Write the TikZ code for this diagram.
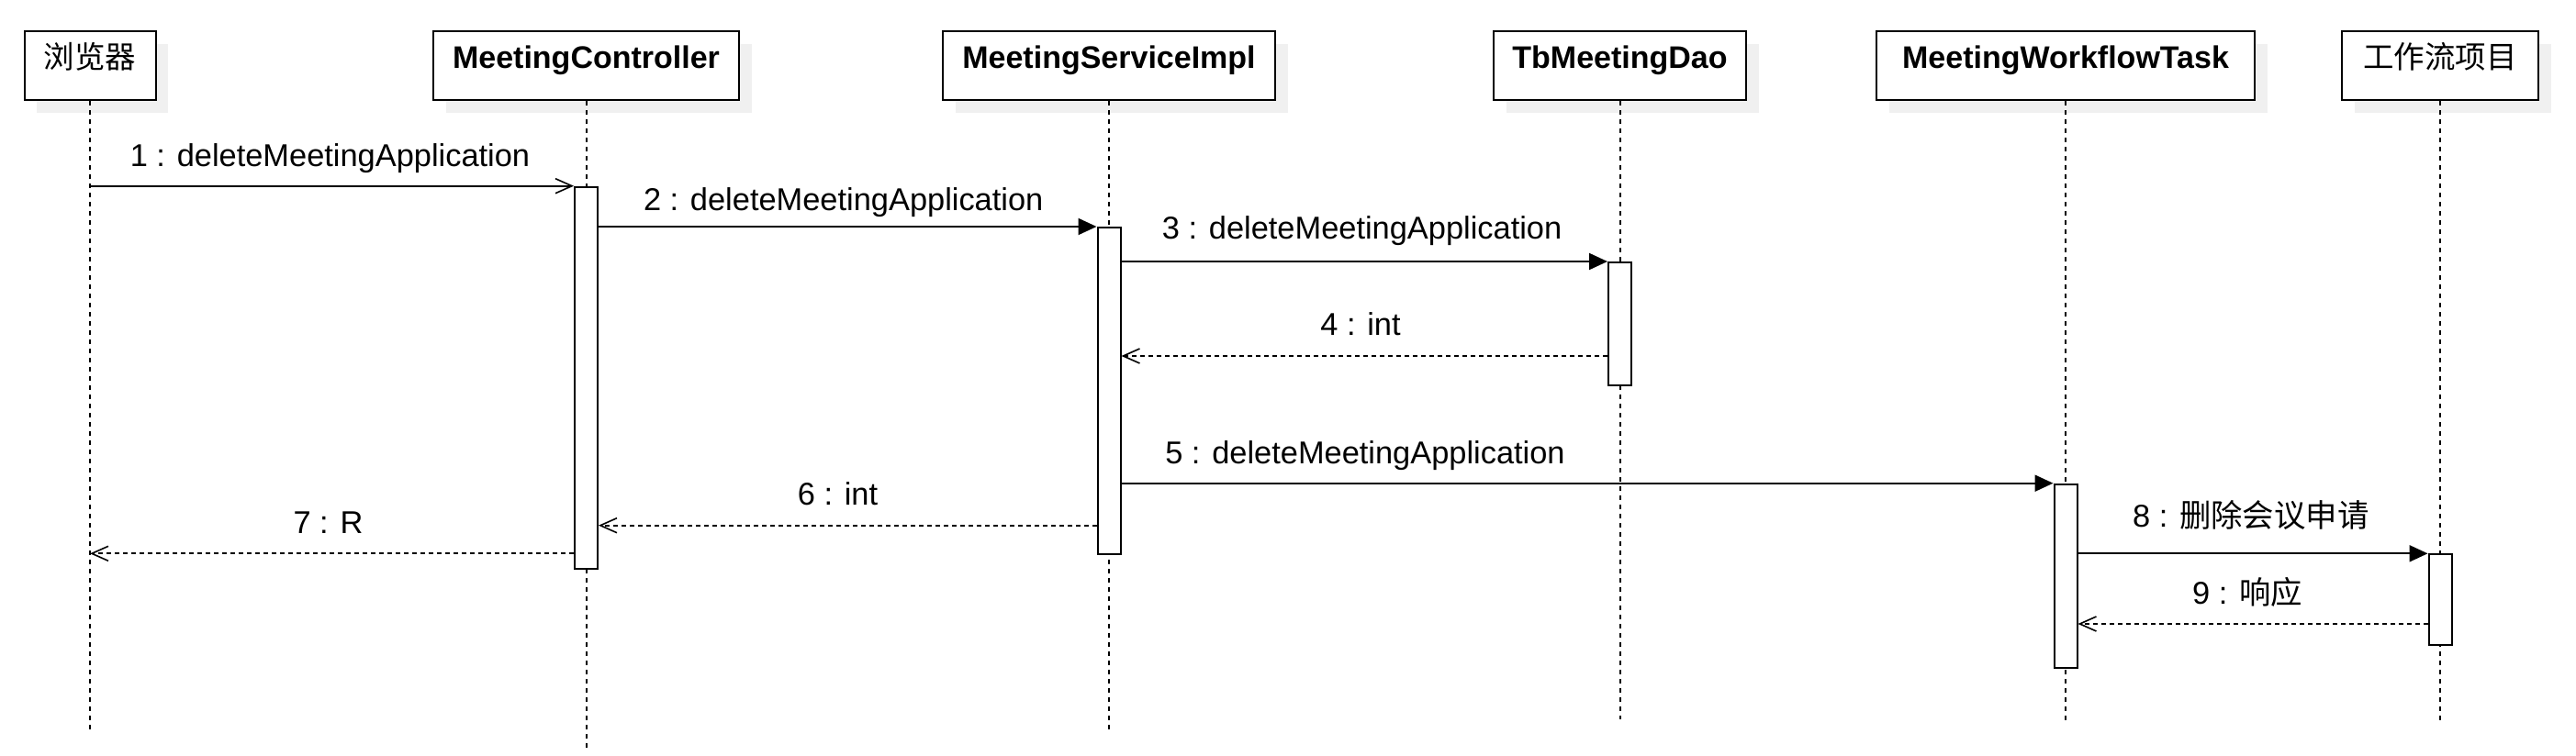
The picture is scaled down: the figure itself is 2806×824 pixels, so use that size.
\documentclass[tikz,border=0pt]{standalone}
\usepackage{fontspec}
\setmainfont{Liberation Sans}
\newfontfamily\cjk{Noto Sans CJK SC}
\usetikzlibrary{arrows.meta,shadows}
\begin{document}
\begin{tikzpicture}[x=1pt,y=-1pt,
  obj/.style={draw,line width=2pt,fill=white,rectangle,inner sep=0pt,
    minimum height=75pt,anchor=north,
    general shadow={fill=black!6,shadow xshift=13.5pt,shadow yshift=-13.5pt}},
  ttl/.style={anchor=base,inner sep=0pt,font=\bfseries\fontsize{34}{40}\selectfont},
  cttl/.style={anchor=base,inner sep=0pt,font=\cjk\fontsize{33.5}{40}\selectfont},
  life/.style={line width=2pt,dash pattern=on 5pt off 5pt},
  act/.style={draw,line width=2pt,fill=white,rectangle,inner sep=0pt,minimum width=25pt,anchor=north},
  syncmsg/.style={line width=2pt,-{Triangle[length=20pt,width=18pt]}},
  asyncmsg/.style={line width=2pt,-{Straight Barb[length=18pt,width=16pt,line width=1.6pt]}},
  retmsg/.style={line width=2pt,dash pattern=on 5pt off 4pt,-{Straight Barb[length=18pt,width=16pt,line width=1.6pt]}},
  lbl/.style={anchor=base,inner sep=0pt,font=\fontsize{34.4}{40}\selectfont}
]
\useasboundingbox (0,0) rectangle (2806,824);

% participant boxes
\node[obj,minimum width=143pt] (br) at (98,33.3) {};
\node[obj,minimum width=333pt] (mc) at (638.5,33.3) {};
\node[obj,minimum width=362pt] (msi) at (1208,33.3) {};
\node[obj,minimum width=275pt] (dao) at (1764.5,33.3) {};
\node[obj,minimum width=412pt] (mwt) at (2250,33.3) {};
\node[obj,minimum width=214pt] (gz) at (2658,33.3) {};

\node[cttl] (br-t) at ([yshift=-41pt]br.north) {浏览器};
\node[ttl] (mc-t) at ([yshift=-41.5pt]mc.north) {MeetingController};
\node[ttl] (msi-t) at ([yshift=-41.5pt]msi.north) {MeetingServiceImpl};
\node[ttl] (dao-t) at ([yshift=-41.5pt]dao.north) {TbMeetingDao};
\node[ttl] (mwt-t) at ([yshift=-41.5pt]mwt.north) {MeetingWorkflowTask};
\node[cttl] (gz-t) at ([yshift=-41pt]gz.north) {工作流项目};

% lifeline ends
\coordinate (br-e) at (98,797);
\coordinate (mc-e) at (638.5,816);
\coordinate (msi-e) at (1208,797);
\coordinate (dao-e) at (1764.5,784);
\coordinate (mwt-e) at (2250,786);
\coordinate (gz-e) at (2658,786);

\draw[life] (br.south) -- (br-e);
\draw[life] (mc.south) -- (mc-e);
\draw[life] (msi.south) -- (msi-e);
\draw[life] (dao.south) -- (dao-e);
\draw[life] (mwt.south) -- (mwt-e);
\draw[life] (gz.south) -- (gz-e);

% activations
\node[act,minimum height=416.5pt] (mcact) at (638.5,202.7) {};
\node[act,minimum height=356.3pt] (msiact) at (1208,247) {};
\node[act,minimum height=134pt] (daoact) at (1764.5,285) {};
\node[act,minimum height=200pt] (mwtact) at (2250,526.7) {};
\node[act,minimum height=98.4pt] (gzact) at (2658,603.3) {};

% message levels
\coordinate (y4) at (0,388);
\coordinate (y6) at (0,572.7);
\coordinate (y7) at (0,603.3);
\coordinate (y9) at (0,680);

% messages
\draw[asyncmsg] (br.south |- mcact.north) -- (mcact.north west);
\draw[syncmsg] (mcact.east |- msiact.north) -- (msiact.north west);
\draw[syncmsg] (msiact.east |- daoact.north) -- (daoact.north west);
\draw[retmsg] (daoact.west |- y4) -- (msiact.east |- y4);
\draw[syncmsg] (msiact.east |- mwtact.north) -- (mwtact.north west);
\draw[retmsg] (msiact.west |- y6) -- (mcact.east |- y6);
\draw[retmsg] (mcact.west |- y7) -- (br.south |- y7);
\draw[syncmsg] (mwtact.east |- gzact.north) -- (gzact.north west);
\draw[retmsg] (gzact.west |- y9) -- (mwtact.east |- y9);

% labels
\node[lbl] (l1) at (359.5,181.7) {1 : deleteMeetingApplication};
\node[lbl] (l2) at (918.7,229) {2 : deleteMeetingApplication};
\node[lbl] (l3) at (1483.6,260) {3 : deleteMeetingApplication};
\node[lbl] (l4) at (1482,365) {4 : int};
\node[lbl] (l5) at (1487,505) {5 : deleteMeetingApplication};
\node[lbl] (l6) at (912.5,550.7) {6 : int};
\node[lbl] (l7) at (357.5,581.7) {7 : R};
\node[lbl] (l8) at (2451.8,574) {8 : {\cjk 删除会议申请}};
\node[lbl] (l9) at (2448,658) {9 : {\cjk 响应}};
\end{tikzpicture}
\end{document}
